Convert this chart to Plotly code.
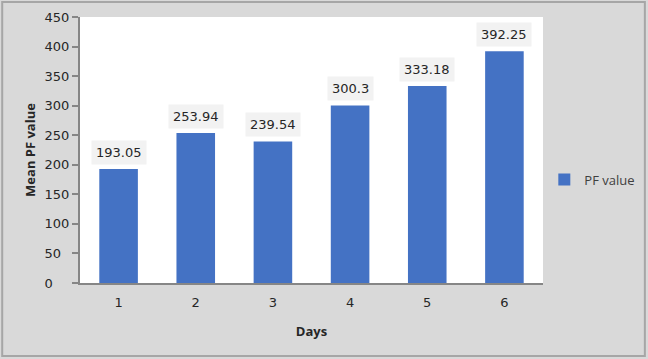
import plotly.graph_objects as go

days = ["1", "2", "3", "4", "5", "6"]
pf_values = [193.05, 253.94, 239.54, 300.3, 333.18, 392.25]
y_ticks = [0, 50, 100, 150, 200, 250, 300, 350, 400, 450]

NB = "\u00a0"
y_ticktext = [str(t) + NB * (2 * (3 - len(str(t)))) for t in y_ticks]

fig = go.Figure()
fig.add_trace(go.Bar(
    x=days, y=pf_values, name="PF value",
    marker=dict(color="#4472c4", line=dict(width=0)),
))

for i, v in enumerate(pf_values):
    fig.add_annotation(
        x=i, y=v, text=f"{v:g}", showarrow=False, yanchor="bottom", yshift=4,
        bgcolor="#f2f2f2", borderpad=4,
        font=dict(family="DejaVu Sans", size=13, color="#262626"),
    )

fig.update_layout(
    width=648, height=359,
    margin=dict(l=80, r=105, t=17, b=76, autoexpand=False),
    paper_bgcolor="#d9d9d9", plot_bgcolor="#ffffff",
    bargap=0.5,
    showlegend=True,
    legend=dict(xref="container", yref="container", x=0.84, y=0.5,
                xanchor="left", yanchor="middle",
                bgcolor="rgba(0,0,0,0)",
                font=dict(family="Open Sans", size=13, color="#404040"),
                itemwidth=30),
    xaxis=dict(
        type="category",
        title=dict(text="<b>Days</b>", font=dict(family="Open Sans", size=13, color="#262626"), standoff=18),
        showline=True, linecolor="#868686", linewidth=1.5,
        ticks="outside", ticklen=7, tickcolor="rgba(0,0,0,0)",
        tickfont=dict(family="DejaVu Sans", size=13, color="#262626"),
        showgrid=False,
    ),
    yaxis=dict(
        title=dict(text="<b>Mean PF value</b>", font=dict(family="Open Sans", size=13, color="#262626"), standoff=6),
        range=[0, 450], tickvals=y_ticks, ticktext=y_ticktext, showgrid=False, zeroline=False,
        showline=True, linecolor="#868686", linewidth=2,
        ticks="outside", ticklen=6, tickcolor="#868686", tickwidth=1.5,
        tickfont=dict(family="DejaVu Sans", size=13, color="#262626"),
    ),
    shapes=[dict(type="rect", xref="paper", yref="paper", x0=-0.168, x1=1.22, y0=-0.274, y1=1.056,
                 line=dict(color="#a6a6a6", width=2), fillcolor="rgba(0,0,0,0)", layer="below")],
)

fig.write_html("out.html")
